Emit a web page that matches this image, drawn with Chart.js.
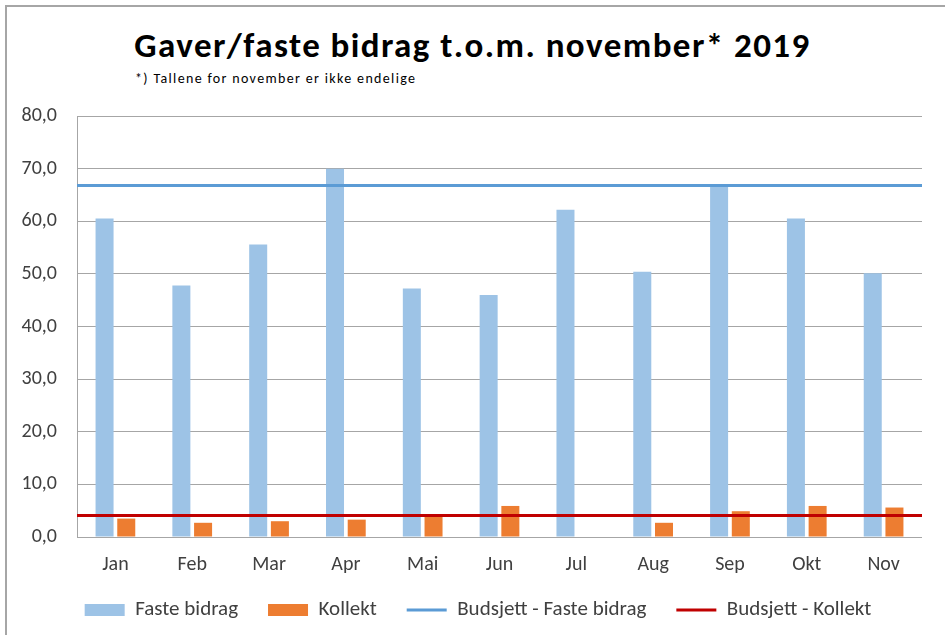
<!DOCTYPE html>
<html><head><meta charset="utf-8">
<script src="https://cdn.jsdelivr.net/npm/chart.js@4.4.1/dist/chart.umd.min.js"></script>
<style>
html,body{margin:0;padding:0;background:#fff;}
#wrap{position:relative;width:945px;height:635px;overflow:hidden;background:#fff;}
#frame{position:absolute;left:5px;top:5px;right:-5px;bottom:-5px;border-left:2px solid #a6a6a6;border-top:2px solid #a6a6a6;}
.t{position:absolute;white-space:nowrap;line-height:1;color:#000;font-family:Carlito,Calibri,Lato,sans-serif;}
#title{top:28px;font-size:35px;font-weight:bold;}
#sub{top:72px;left:135px;font-size:14px;}
#c{position:absolute;left:0;top:0;}
</style></head>
<body><div id="wrap">
<div id="frame"></div>
<span class="t" id="title">Gaver/faste bidrag t.o.m. november* 2019</span>
<span class="t" id="sub">*) Tallene for november er ikke endelige</span>
<canvas id="c" width="945" height="635"></canvas>
</div>
<script>
const months = ['Jan','Feb','Mar','Apr','Mai','Jun','Jul','Aug','Sep','Okt','Nov'];
const fasteBidrag = [60.5, 47.8, 55.6, 70.0, 47.2, 46.0, 62.2, 50.4, 66.6, 60.5, 50.1];
const kollekt = [3.5, 2.7, 3.0, 3.3, 4.0, 5.9, null, 2.7, 4.9, 5.9, 5.6];
const budsjettFaste = 66.8;
const budsjettKollekt = 4.1;
const yMin = 0, yMax = 80, yStep = 10;

function spread(el, target) {
  const w = el.getBoundingClientRect().width;
  const n = el.textContent.length - 1;
  el.style.letterSpacing = ((target - w) / n) + 'px';
}
const title = document.getElementById('title');
spread(title, 675);
title.style.left = (472.5 - title.getBoundingClientRect().width / 2) + 'px';
spread(document.getElementById('sub'), 280);

// Chart.js 4.5 groups bars per x-axis id of every dataset; only bar datasets should count
(function () {
  const BC = Chart.BarController && Chart.BarController.prototype;
  if (BC && typeof BC._getAxis === 'function') {
    BC._getAxis = function () {
      const ids = {};
      const first = typeof this.getFirstScaleIdForIndexAxis === 'function' ? this.getFirstScaleIdForIndexAxis() : 'x';
      for (const ds of this.chart.data.datasets) {
        if ((ds.type || this.chart.config.type) !== 'bar') continue;
        ids[ds.xAxisID != null ? ds.xAxisID : first] = true;
      }
      return Object.keys(ids);
    };
  }
})();

const FONT = 'Carlito, Calibri, Lato, sans-serif';
const textColor = '#404040';
const gridColor = '#a6a6a6';
const LEGEND_PAD = 30, LEGEND_FONT = 21;

const legendPlace = {
  id:'legendPlace',
  beforeDraw(chart) {
    const lg = chart.legend;
    if (!lg) return;
    const h = lg.height;
    lg.top = 610 - LEGEND_PAD - LEGEND_FONT / 2;
    lg.bottom = lg.top + h;
    lg.left += 17; lg.right += 17;
  }
};

new Chart(document.getElementById('c'), {
  type: 'bar',
  data: {
    labels: months,
    datasets: [
      {type:'bar', label:'Faste bidrag', data: fasteBidrag, backgroundColor:'#9DC3E6', borderWidth:0,
       pointStyle:'rect', xAxisID:'x', order:2, categoryPercentage:0.565, barPercentage:0.83},
      {type:'bar', label:'Kollekt', data: kollekt, backgroundColor:'#ED7D31', borderWidth:0,
       pointStyle:'rect', xAxisID:'x', order:2, categoryPercentage:0.565, barPercentage:0.83},
      {type:'line', label:'Budsjett - Faste bidrag', data: months.map(() => budsjettFaste),
       borderColor:'#5B9BD5', backgroundColor:'#5B9BD5', borderWidth:3, pointRadius:0, pointStyle:'line',
       xAxisID:'x2', order:1},
      {type:'line', label:'Budsjett - Kollekt', data: months.map(() => budsjettKollekt),
       borderColor:'#C00000', backgroundColor:'#C00000', borderWidth:3, pointRadius:0, pointStyle:'line',
       xAxisID:'x2', order:0}
    ]
  },
  options: {
    responsive:false, animation:false,
    layout:{padding:{top:116, right:23, left:0, bottom:0}},
    plugins:{
      title:{display:false}, tooltip:{enabled:false},
      legend:{position:'bottom', maxHeight:56,
        labels:{usePointStyle:true, pointStyleWidth:40, boxHeight:12, padding:LEGEND_PAD,
          font:{family:FONT, size:LEGEND_FONT}, color:textColor,
          sort:(a,b)=>a.datasetIndex-b.datasetIndex}}
    },
    scales:{
      x:{type:'category', offset:true,
        grid:{display:false}, border:{display:false},
        ticks:{font:{family:FONT, size:20}, color:textColor, padding:8},
        afterFit:(s)=>{s.height=42;}},
      x2:{type:'category', labels:months, offset:false, display:false},
      y:{min:yMin, max:yMax,
        ticks:{stepSize:yStep, font:{family:FONT, size:20}, color:textColor, padding:20,
          callback:(v)=>v.toFixed(1).replace('.',',')},
        grid:{color:gridColor, lineWidth:1, drawTicks:false},
        border:{display:true, color:gridColor, width:1},
        afterFit:(s)=>{s.width=77;}}
    }
  },
  plugins:[legendPlace]
});
</script>
</body></html>
